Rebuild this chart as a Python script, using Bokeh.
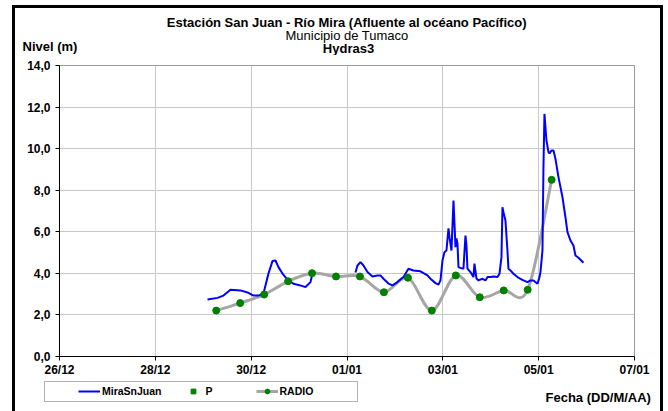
import pandas as pd
from bokeh.plotting import figure
from bokeh.layouts import column
from bokeh.models import (FixedTicker, DatetimeTickFormatter, Legend, LegendItem, Label,
                          BoxAnnotation, ColumnDataSource, Range1d)
from bokeh.embed import file_html
from bokeh.resources import INLINE

# ---------------- data ----------------
mira_times = [
    "2012-12-29 02:07", "2012-12-29 07:08", "2012-12-29 10:08", "2012-12-29 13:38",
    "2012-12-29 18:39", "2012-12-29 22:09", "2012-12-30 01:09", "2012-12-30 03:40",
    "2012-12-30 06:10", "2012-12-30 08:40", "2012-12-30 10:40", "2012-12-30 12:10",
    "2012-12-30 13:41", "2012-12-30 15:41", "2012-12-30 18:11", "2012-12-30 21:11",
    "2012-12-31 00:42", "2012-12-31 03:13", "2012-12-31 05:43", "2012-12-31 06:43",
    "2012-12-31 18:00",
    "2013-01-01 04:15", "2013-01-01 05:15", "2013-01-01 06:45", "2013-01-01 08:15",
    "2013-01-01 10:15", "2013-01-01 12:46", "2013-01-01 15:16", "2013-01-01 16:46",
    "2013-01-01 18:16", "2013-01-01 20:47", "2013-01-01 22:47", "2013-01-02 01:16",
    "2013-01-02 04:17", "2013-01-02 06:47", "2013-01-02 09:17", "2013-01-02 12:48",
    "2013-01-02 16:19", "2013-01-02 17:49", "2013-01-02 20:19", "2013-01-02 21:49",
    "2013-01-02 22:49", "2013-01-02 23:50", "2013-01-03 00:49", "2013-01-03 01:49",
    "2013-01-03 02:50", "2013-01-03 03:20", "2013-01-03 04:20", "2013-01-03 05:20",
    "2013-01-03 05:50", "2013-01-03 06:20", "2013-01-03 06:50", "2013-01-03 07:20",
    "2013-01-03 07:50", "2013-01-03 09:50", "2013-01-03 10:20", "2013-01-03 11:20",
    "2013-01-03 11:50", "2013-01-03 12:20", "2013-01-03 13:50", "2013-01-03 15:20",
    "2013-01-03 15:50", "2013-01-03 16:51", "2013-01-03 17:51", "2013-01-03 19:51",
    "2013-01-03 21:21", "2013-01-03 22:22", "2013-01-03 23:52", "2013-01-04 01:22",
    "2013-01-04 03:22", "2013-01-04 04:22", "2013-01-04 05:22", "2013-01-04 05:52",
    "2013-01-04 06:22", "2013-01-04 07:22", "2013-01-04 08:22", "2013-01-04 08:52",
    "2013-01-04 09:52", "2013-01-04 11:22", "2013-01-04 13:23", "2013-01-04 14:53",
    "2013-01-04 16:23", "2013-01-04 18:23", "2013-01-04 19:53", "2013-01-04 21:23",
    "2013-01-04 23:24", "2013-01-05 00:24", "2013-01-05 00:54", "2013-01-05 01:54",
    "2013-01-05 02:24", "2013-01-05 02:54", "2013-01-05 03:54", "2013-01-05 04:55",
    "2013-01-05 05:24", "2013-01-05 06:25", "2013-01-05 07:25", "2013-01-05 08:25",
    "2013-01-05 09:55", "2013-01-05 11:56", "2013-01-05 13:25", "2013-01-05 14:25",
    "2013-01-05 15:56", "2013-01-05 17:25", "2013-01-05 18:26", "2013-01-05 19:56",
    "2013-01-05 22:26",
]
mira_values = [
    2.74, 2.82, 2.93, 3.21, 3.18, 3.08, 2.93, 2.93, 3.03, 3.99, 4.59, 4.62,
    4.30, 3.99, 3.70, 3.50, 3.42, 3.34, 3.58, 3.99,
    float("nan"),
    4.04, 4.38, 4.54, 4.38, 4.06, 3.85, 3.90, 3.90, 3.74, 3.51, 3.42, 3.58,
    3.82, 4.22, 4.14, 4.10, 3.90, 3.74, 3.53, 3.46, 3.66, 4.62, 5.02, 5.10,
    6.16, 5.74, 5.10, 7.50, 6.40, 5.26, 5.68, 5.43, 4.30, 4.23, 4.23, 5.82,
    5.34, 4.23, 4.06, 3.82, 4.47, 3.75, 3.66, 3.74, 3.66, 3.82, 3.82, 3.85,
    3.82, 3.98, 4.78, 7.18, 6.94, 6.54, 5.10, 4.22, 4.14, 3.98, 3.82, 3.74,
    3.66, 3.58, 3.66, 3.66, 3.50, 3.82, 4.06, 5.10, 9.10, 11.67, 10.39, 9.83,
    9.77, 9.91, 9.91, 9.51, 8.63, 7.66, 6.70, 5.98, 5.58, 5.34, 4.86, 4.75,
    4.51,
]

radio_times = [
    "2012-12-29 06:30", "2012-12-29 18:30", "2012-12-30 06:30", "2012-12-30 18:30",
    "2012-12-31 06:30", "2012-12-31 18:30", "2013-01-01 06:30", "2013-01-01 18:30",
    "2013-01-02 06:30", "2013-01-02 18:30", "2013-01-03 06:30", "2013-01-03 18:30",
    "2013-01-04 06:30", "2013-01-04 18:30", "2013-01-05 06:30",
]
radio_values = [2.21, 2.57, 2.98, 3.62, 4.01, 3.85, 3.85, 3.09, 3.79, 2.21,
                3.90, 2.85, 3.18, 3.21, 8.50]

x_ticks = ["2012-12-26", "2012-12-28", "2012-12-30", "2013-01-01",
           "2013-01-03", "2013-01-05", "2013-01-07"]
y_ticks = [0, 2, 4, 6, 8, 10, 12, 14]
y_tick_labels = ["0,0", "2,0", "4,0", "6,0", "8,0", "10,0", "12,0", "14,0"]

title_1 = "Estación San Juan  - Río Mira (Afluente al océano Pacífico)"
title_2 = "Municipio de Tumaco"
title_3 = "Hydras3"
y_title = "Nivel (m)"
x_title = "Fecha (DD/M/AA)"
series_names = ["MiraSnJuan", "P", "RADIO"]


def to_ms(strings):
    return [pd.Timestamp(s).value / 1e6 for s in strings]


mx = to_ms(mira_times)
rx = to_ms(radio_times)
xt = to_ms(x_ticks)

FONT = "Liberation Sans"
W = 668
H_TOP, H_MAIN, H_BOT = 55, 324, 32
FRAME_L, FRAME_R = 59, 634
BLUE, GRAY, GREEN = "#0000ff", "#a6a6a6", "#008000"


def blank_figure(h):
    f = figure(width=W, height=h, output_backend="svg", toolbar_location=None,
               x_axis_location=None, y_axis_location=None, title=None,
               x_range=Range1d(0, W), y_range=Range1d(h, 0), min_border=0)
    f.min_border_left = f.min_border_right = f.min_border_top = f.min_border_bottom = 0
    f.outline_line_color = None
    f.background_fill_color = None
    f.border_fill_color = None
    f.xgrid.visible = False
    f.ygrid.visible = False
    try:
        f.frame_align = False      # keep this strip's frame on the whole canvas
    except AttributeError:
        # frames get aligned with the main chart: map page pixels onto that frame
        f.x_range = Range1d(FRAME_L, FRAME_R)
    return f


def text(fig, s, x, y, bold=True, size="13px", align="center"):
    fig.add_layout(Label(x=x, y=y, text=s, text_font=FONT,
                         text_font_style="bold" if bold else "normal",
                         text_font_size=size, text_align=align,
                         text_baseline="middle", text_color="black"))


# ---------------- header: titles ----------------
top = blank_figure(H_TOP)
text(top, title_1, 348, 21.7, bold=True)
text(top, title_2, 346.5, 35, bold=False)
text(top, title_3, 348, 48, bold=True)
text(top, y_title, 22, 45.5, bold=True, align="left")

# ---------------- main chart ----------------
p = figure(width=W, height=H_MAIN, output_backend="svg", toolbar_location=None,
           x_axis_type="datetime", title=None,
           x_range=Range1d(xt[0], xt[-1]), y_range=Range1d(0, 14),
           min_border_left=FRAME_L, min_border_right=W - FRAME_R, min_border_top=10,
           min_border_bottom=23)
p.background_fill_color = "white"
p.border_fill_color = None
p.outline_line_color = "#999999"

p.xaxis.ticker = FixedTicker(ticks=xt)
p.xaxis.formatter = DatetimeTickFormatter(days="%d/%m", months="%d/%m", hours="%d/%m")
p.yaxis.ticker = FixedTicker(ticks=y_ticks)
p.yaxis.major_label_overrides = {t: l for t, l in zip(y_ticks, y_tick_labels)}
for ax in (p.xaxis[0], p.yaxis[0]):
    ax.axis_line_color = "black"
    ax.major_tick_line_color = "black"
    ax.major_tick_out = 4
    ax.major_tick_in = 0
    ax.minor_tick_line_color = None
    ax.major_label_text_font = FONT
    ax.major_label_text_font_style = "bold"
    ax.major_label_text_font_size = "12px"
    ax.major_label_text_color = "black"
p.xaxis.major_label_standoff = 2
p.yaxis.major_label_standoff = 5
p.xgrid.grid_line_color = "#c8c8c8"
p.ygrid.grid_line_color = "#c8c8c8"

# smoothed RADIO line: bezier segments whose control points come from the data points
n = len(rx)
seg = dict(x0=[], y0=[], x1=[], y1=[], cx0=[], cy0=[], cx1=[], cy1=[])
for i in range(n - 1):
    im, ip = max(i - 1, 0), min(i + 2, n - 1)
    seg["x0"].append(rx[i]); seg["y0"].append(radio_values[i])
    seg["x1"].append(rx[i + 1]); seg["y1"].append(radio_values[i + 1])
    seg["cx0"].append(rx[i] + (rx[i + 1] - rx[im]) / 6.0)
    seg["cy0"].append(radio_values[i] + (radio_values[i + 1] - radio_values[im]) / 6.0)
    seg["cx1"].append(rx[i + 1] - (rx[ip] - rx[i]) / 6.0)
    seg["cy1"].append(radio_values[i + 1] - (radio_values[ip] - radio_values[i]) / 6.0)
p.bezier(source=ColumnDataSource(seg), x0="x0", y0="y0", x1="x1", y1="y1",
         cx0="cx0", cy0="cy0", cx1="cx1", cy1="cy1", line_color=GRAY, line_width=3)
p.line(mx, mira_values, line_color=BLUE, line_width=2)
p.scatter(rx, radio_values, size=7, fill_color=GREEN, line_color=GREEN)

# ---------------- footer: legend and x title ----------------
bot = blank_figure(H_BOT)
# legend proxies: one missing (NaN) value each, so only their legend samples show
proxy = ColumnDataSource(data=dict(x=[float("nan")], y=[float("nan")]))
r_blue = bot.line("x", "y", source=proxy, line_color=BLUE, line_width=2)
r_p = bot.scatter("x", "y", source=proxy, marker="square", size=3,
                  fill_color=GREEN, line_color=GREEN)
r_gray = bot.line("x", "y", source=proxy, line_color=GRAY, line_width=3)
r_dot = bot.scatter("x", "y", source=proxy, size=6, fill_color=GREEN, line_color=GREEN)

legend = Legend(items=[
    LegendItem(label=series_names[0], renderers=[r_blue]),
    LegendItem(label=series_names[1], renderers=[r_p]),
    LegendItem(label=series_names[2], renderers=[r_gray, r_dot]),
], location=(74, 10), orientation="horizontal")
legend.padding = 4
legend.margin = 0
legend.spacing = 20
legend.glyph_width = 22
legend.glyph_height = 12
legend.label_standoff = 2
legend.label_width = 30
legend.label_height = 12
legend.label_text_font = FONT
legend.label_text_font_style = "bold"
legend.label_text_font_size = "10.5px"
legend.label_text_color = "black"
legend.border_line_alpha = 0
legend.background_fill_alpha = 0
bot.add_layout(legend)
bot.add_layout(BoxAnnotation(left=44, right=357, top=2, bottom=22, fill_alpha=0,
                             line_color="black", line_width=1))
text(bot, x_title, 545, 18, bold=True, size="13px", align="left")

layout = column(top, p, bot, spacing=0)
layout.styles = {
    "background-color": "white",
    "background-image": "linear-gradient(#000,#000), linear-gradient(#000,#000), linear-gradient(#000,#000)",
    "background-size": "3px 420px, 651px 3px, 3px 420px",
    "background-position": "12px 5px, 12px 5px, 660px 5px",
    "background-repeat": "no-repeat",
}

open("out.html", "w").write(file_html(layout, INLINE))
